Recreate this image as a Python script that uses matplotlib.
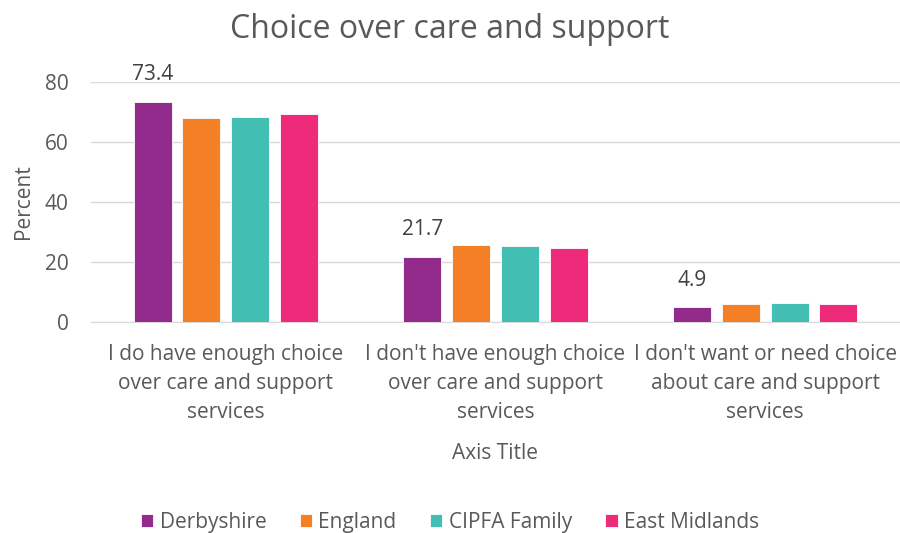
import matplotlib.pyplot as plt
import numpy as np

plt.rcParams['font.family'] = ['Open Sans', 'DejaVu Sans']

categories = ["I do have enough choice\nover care and support\nservices",
              "I don't have enough choice\nover care and support\nservices",
              "I don't want or need choice\nabout care and support\nservices"]
series = ["Derbyshire", "England", "CIPFA Family", "East Midlands"]
derbyshire = [73.4, 21.7, 4.9]
england = [68.1, 25.8, 6.1]
cipfa = [68.2, 25.2, 6.3]
east_midlands = [69.2, 24.7, 6.1]
colors = ["#922B8C", "#F57F25", "#42BFB2", "#EE2A7B"]

fig = plt.figure(figsize=(9, 5.33), dpi=100)
ax = fig.add_axes([0.101, 0.396, 0.899, 0.45])

x = np.arange(len(categories))
step = 0.181
width = 0.141
values = [derbyshire, england, cipfa, east_midlands]
for i, (name, vals, c) in enumerate(zip(series, values, colors)):
    bars = ax.bar(x + (i - 1.5) * step, vals, width, color=c, label=name,
                  edgecolor='white', linewidth=0.6, zorder=3)
    if name == "Derbyshire":
        for b, v in zip(bars, vals):
            ax.text(b.get_x() + b.get_width() / 2, v + 5.5, f"{v}",
                    ha='center', va='bottom', fontsize=15, color='#404040')

ax.set_xlim(-0.5, 2.5)
ax.set_ylim(0, 80)
ax.set_yticks([0, 20, 40, 60, 80])
ax.set_xticks(x)
ax.set_xticklabels(categories, fontsize=15, color='#595959', linespacing=1.5)
ax.tick_params(axis='y', length=0, pad=16, labelsize=15, labelcolor='#595959')
ax.tick_params(axis='x', length=0, pad=16)
ax.grid(axis='y', color='#D9D9D9', linewidth=1, zorder=0)
for s in ['top', 'right', 'left']:
    ax.spines[s].set_visible(False)
ax.spines['bottom'].set_color('#D9D9D9')

ax.set_ylabel("Percent", fontsize=15, color='#595959', labelpad=8)
ax.set_xlabel("Axis Title", fontsize=15, color='#595959', labelpad=14)
fig.suptitle("Choice over care and support", fontsize=23, color='#595959', y=0.975)

fig.legend(loc='lower center', bbox_to_anchor=(0.5, -0.035), ncol=4, frameon=False,
           fontsize=15, handlelength=0.6, handleheight=0.6, columnspacing=1.6,
           handletextpad=0.3, labelcolor='#595959')

fig.savefig('out.png', dpi=100)
